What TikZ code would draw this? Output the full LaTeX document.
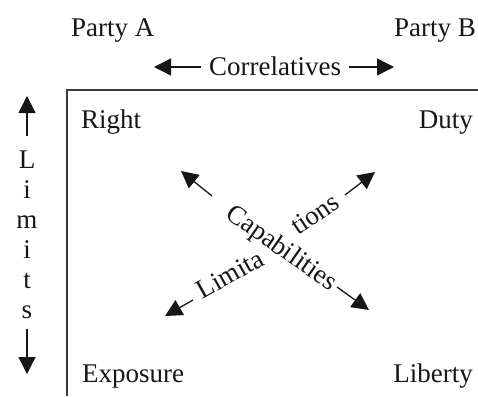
\documentclass[tikz,border=0pt]{standalone}
\usepackage{fontspec}
\setmainfont{Liberation Serif}
\usetikzlibrary{arrows.meta}
\definecolor{ink}{HTML}{161616}
\definecolor{frame}{HTML}{3A3A3A}
\tikzset{
  lbl/.style={inner sep=0pt, text=ink, font=\fontsize{27}{32}\selectfont},
  bigarrow/.style={draw=ink, line width=1.3pt, -{Triangle[length=17pt,width=17pt]}},
  frameline/.style={draw=frame, line width=1.6pt},
}
\begin{document}
\begin{tikzpicture}[x=1pt,y=1pt]
  \useasboundingbox (0,0) rectangle (478,-396);
  % frame: top and left sides only
  \coordinate (fTR) at (478,-90);
  \coordinate (fTL) at (67,-90);
  \coordinate (fBL) at (67,-396);
  \draw[frameline] (fTR) -- (fTL) -- (fBL);

  % parties
  \node[lbl, anchor=base west] (pa) at (71,-37) {Party A};
  \node[lbl, anchor=base east] (pb) at (476,-37) {Party B};

  % correlatives
  \node[lbl, anchor=base] (corr) at (275,-75) {Correlatives};
  \coordinate (cl0) at (201,-67); \coordinate (cl1) at (154,-67);
  \coordinate (cr0) at (349,-67); \coordinate (cr1) at (394,-67);
  \draw[bigarrow] (cl0) -- (cl1);
  \draw[bigarrow] (cr0) -- (cr1);

  % corners
  \node[lbl, anchor=base west] (right) at (81,-128) {Right};
  \node[lbl, anchor=base east] (duty) at (473,-128) {Duty};
  \node[lbl, anchor=base west] (expo) at (82,-382) {Exposure};
  \node[lbl, anchor=base east] (lib) at (473,-382) {Liberty};

  % limits, stacked letters
  \node[lbl, anchor=base] (l1) at (27,-168) {L};
  \node[lbl, anchor=base] (l2) at (27,-198) {i};
  \node[lbl, anchor=base] (l3) at (27,-228) {m};
  \node[lbl, anchor=base] (l4) at (27,-258) {i};
  \node[lbl, anchor=base] (l5) at (27,-288) {t};
  \node[lbl, anchor=base] (l6) at (27,-318) {s};
  \coordinate (lu0) at (27,-136); \coordinate (lu1) at (27,-96);
  \coordinate (ld0) at (27,-329); \coordinate (ld1) at (27,-374);
  \draw[bigarrow] (lu0) -- (lu1);
  \draw[bigarrow] (ld0) -- (ld1);

  % diagonal labels
  \node[lbl, rotate=-35] (cap) at (281,-249) {Capabilities};
  \node[lbl, rotate=29] (lim1) at (230,-274) {Limita};
  \node[lbl, rotate=34] (lim2) at (315,-214) {tions};

  % diagonal arrows
  \coordinate (ul0) at (212,-196); \coordinate (ul1) at (181,-171);
  \coordinate (ur0) at (345,-195); \coordinate (ur1) at (375,-172);
  \coordinate (ll0) at (193,-300); \coordinate (ll1) at (165,-316);
  \coordinate (lr0) at (337,-287); \coordinate (lr1) at (369,-310);
  \draw[bigarrow] (ul0) -- (ul1);
  \draw[bigarrow] (ur0) -- (ur1);
  \draw[bigarrow] (ll0) -- (ll1);
  \draw[bigarrow] (lr0) -- (lr1);
\end{tikzpicture}
\end{document}
